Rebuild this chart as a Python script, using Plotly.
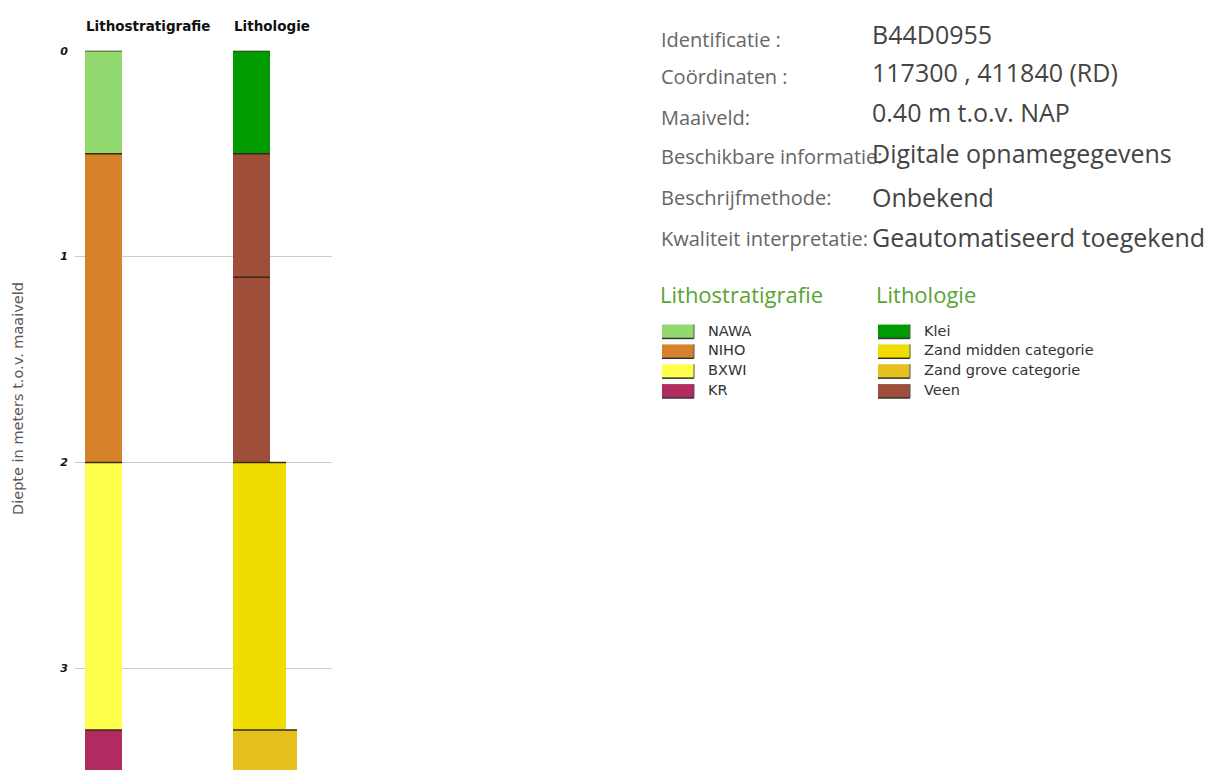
import plotly.graph_objects as go

W, H = 1216, 770

# ---------------- data ----------------
strat_units = ["NAWA", "NIHO", "BXWI", "KR"]
strat_tops = [0.0, 0.5, 2.0, 3.3]
strat_bottoms = [0.5, 2.0, 3.3, 3.5]

litho_units = ["Klei", "Veen", "Veen", "Zand midden categorie", "Zand grove categorie"]
litho_tops = [0.0, 0.5, 1.1, 2.0, 3.3]
litho_bottoms = [0.5, 1.1, 2.0, 3.3, 3.5]

strat_legend = ["NAWA", "NIHO", "BXWI", "KR"]
litho_legend = ["Klei", "Zand midden categorie", "Zand grove categorie", "Veen"]

depth_ticks = [0, 1, 2, 3]

info_labels = ["Identificatie :", "Coördinaten :", "Maaiveld:",
               "Beschikbare informatie:", "Beschrijfmethode:", "Kwaliteit interpretatie:"]
info_values = ["B44D0955", "117300 , 411840 (RD)", "0.40 m t.o.v. NAP",
               "Digitale opnamegegevens", "Onbekend", "Geautomatiseerd toegekend"]

# ---------------- styles ----------------
strat_colors = {"NAWA": "#92d96f", "NIHO": "#d5822b", "BXWI": "#ffff4d", "KR": "#b12b60"}
litho_colors = {"Klei": "#009b00", "Veen": "#9f4e3a",
                "Zand midden categorie": "#f1dc00", "Zand grove categorie": "#e6c01c"}
litho_widths = {"Klei": 37, "Veen": 37, "Zand midden categorie": 53, "Zand grove categorie": 64}
STRAT_W = 37
STRAT_LEFT = 10     # axis units (= px from plot left)
LITHO_LEFT = 158
BORDER = "#3a2812"

OFF = 8  # page body margin of the html page
PLOT_L, PLOT_R, PLOT_T = 75, 332, 45   # screen px
PX_PER_M = 207.5
Y_BOTTOM = (H - (PLOT_T - OFF)) / PX_PER_M


def px(x):
    return (x - OFF) / W


def py(y):
    return 1 - (y - OFF) / H


fig = go.Figure()

# Lithostratigrafie column
fig.add_trace(go.Bar(
    x=[STRAT_LEFT] * len(strat_units),
    y=[b - t for t, b in zip(strat_tops, strat_bottoms)],
    base=strat_tops,
    width=[STRAT_W] * len(strat_units),
    offset=0,
    marker=dict(color=[strat_colors[u] for u in strat_units], line=dict(width=0)),
    hovertext=strat_units, showlegend=False,
))

# Lithologie column
fig.add_trace(go.Bar(
    x=[LITHO_LEFT] * len(litho_units),
    y=[b - t for t, b in zip(litho_tops, litho_bottoms)],
    base=litho_tops,
    width=[litho_widths[u] for u in litho_units],
    offset=0,
    marker=dict(color=[litho_colors[u] for u in litho_units], line=dict(width=0)),
    hovertext=litho_units, showlegend=False,
))

# layer boundary lines
bx, by = [], []
for t in strat_tops + [strat_bottoms[-1]]:
    bx += [STRAT_LEFT, STRAT_LEFT + STRAT_W, None]
    by += [t, t, None]
for u, t in zip(litho_units, litho_tops):
    bx += [LITHO_LEFT, LITHO_LEFT + litho_widths[u], None]
    by += [t, t, None]
bx += [LITHO_LEFT, LITHO_LEFT + 74, None]
by += [litho_bottoms[-1], litho_bottoms[-1], None]
fig.add_trace(go.Scatter(x=bx, y=by, mode="lines", line=dict(color=BORDER, width=1.5),
                         cliponaxis=False, showlegend=False, hoverinfo="skip"))

ann = []
# column headers
for txt, x0 in [("Lithostratigrafie", 84), ("Lithologie", 232)]:
    ann.append(dict(text="<b>" + txt + "</b>", x=px(x0), y=py(20), xanchor="left", yanchor="middle",
                    font=dict(family="DejaVu Sans", size=13.5, color="#111")))
# y title
ann.append(dict(text="Diepte in meters t.o.v. maaiveld", x=px(18), y=py(396), textangle=-90,
                xanchor="center", yanchor="middle",
                font=dict(family="DejaVu Sans", size=14.5, color="#5a5a5a")))

# info panel
label_y = [34, 71, 112, 152, 193, 234]
value_y = [28, 66, 107, 148, 192, 233]
for lab, yy in zip(info_labels, label_y):
    ann.append(dict(text=lab, x=px(659), y=py(yy), xanchor="left", yanchor="middle",
                    font=dict(family="Open Sans", size=20, color="#666")))
for val, yy in zip(info_values, value_y):
    ann.append(dict(text=val, x=px(870), y=py(yy), xanchor="left", yanchor="middle",
                    font=dict(family="Open Sans", size=25, color="#444")))

# legend
ann.append(dict(text="Lithostratigrafie", x=px(658), y=py(290), xanchor="left", yanchor="middle",
                font=dict(family="Open Sans", size=22, color="#5ba332")))
ann.append(dict(text="Lithologie", x=px(874), y=py(290), xanchor="left", yanchor="middle",
                font=dict(family="Open Sans", size=22, color="#5ba332")))

shapes = []
row_y = [328, 348, 368, 388]
SW, SH = 32, 14
for items, colors, x0 in [(strat_legend, strat_colors, 662), (litho_legend, litho_colors, 878)]:
    for name, yy in zip(items, row_y):
        shapes.append(dict(type="rect", xref="paper", yref="paper",
                           x0=px(x0), x1=px(x0 + SW), y0=py(yy + SH / 2), y1=py(yy - SH / 2),
                           fillcolor=colors[name], line=dict(width=0)))
        shapes.append(dict(type="line", xref="paper", yref="paper",
                           x0=px(x0), x1=px(x0 + SW), y0=py(yy + SH / 2), y1=py(yy + SH / 2),
                           line=dict(color="#333", width=1.5)))
        shapes.append(dict(type="line", xref="paper", yref="paper",
                           x0=px(x0 + SW), x1=px(x0 + SW), y0=py(yy + SH / 2), y1=py(yy - SH / 2),
                           line=dict(color="#555", width=1)))
        ann.append(dict(text=name, x=px(x0 + 44), y=py(yy - 1), xanchor="left", yanchor="middle",
                        font=dict(family="DejaVu Sans", size=14.5, color="#333")))

for a in ann:
    a.setdefault("xref", "paper")
    a.setdefault("yref", "paper")
    a["showarrow"] = False

fig.update_layout(
    width=W, height=H,
    margin=dict(l=0, r=0, t=0, b=0),
    paper_bgcolor="white", plot_bgcolor="white",
    barmode="overlay",
    xaxis=dict(domain=[px(PLOT_L), px(PLOT_R)], range=[0, PLOT_R - PLOT_L],
               visible=False, fixedrange=True),
    yaxis=dict(domain=[0, py(PLOT_T)], range=[Y_BOTTOM, 0],
               tickvals=depth_ticks, ticktext=[str(t) for t in depth_ticks],
               showgrid=True, gridcolor="#cccccc", gridwidth=1,
               zeroline=False, showline=False, ticks="",
               ticklabelstandoff=6,
               tickfont=dict(family="DejaVu Sans", size=11, color="#111", weight="bold", style="italic")),
    annotations=ann,
    shapes=shapes,
    showlegend=False,
)

fig.write_html("out.html")
